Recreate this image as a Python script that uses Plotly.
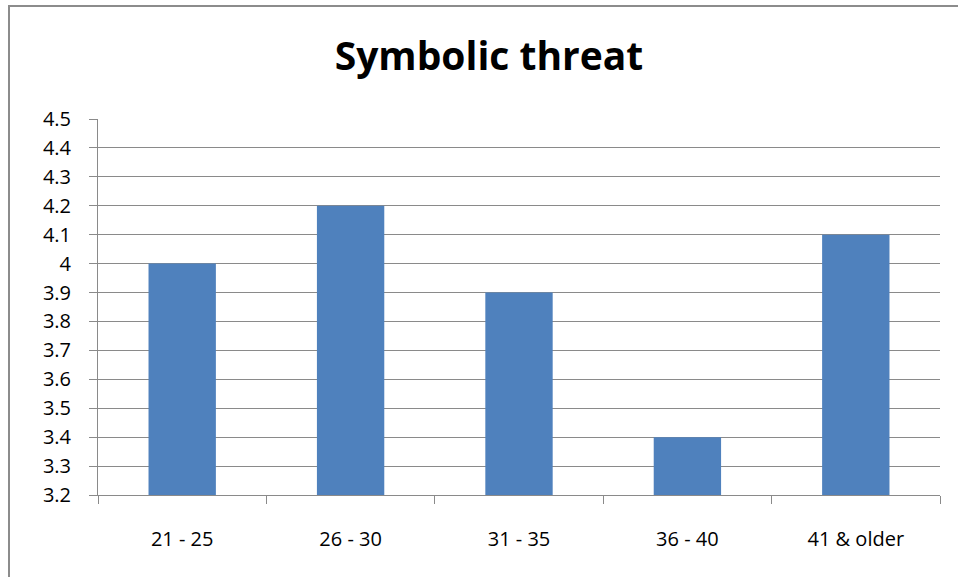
import plotly.graph_objects as go

categories = ["21 - 25", "26 - 30", "31 - 35", "36 - 40", "41 & older"]
values = [4.0, 4.2, 3.9, 3.4, 4.1]
y_ticks = [3.2, 3.3, 3.4, 3.5, 3.6, 3.7, 3.8, 3.9, 4.0, 4.1, 4.2, 4.3, 4.4, 4.5]
y_tick_labels = ["3.2", "3.3", "3.4", "3.5", "3.6", "3.7", "3.8", "3.9", "4", "4.1", "4.2", "4.3", "4.4", "4.5"]

W, H = 958, 577
L, R, T, B = 98, 940, 119, 495

fig = go.Figure(go.Bar(x=categories, y=values, marker=dict(color="#4F81BD", line=dict(width=0))))

font = "Open Sans, sans-serif"
fig.update_layout(
    width=W, height=H,
    margin=dict(l=L, r=W - R, t=T, b=H - B, pad=0),
    paper_bgcolor="white", plot_bgcolor="white",
    bargap=0.6, showlegend=False,
    font=dict(family=font, size=20, color="black"),
    title=dict(text="<b>Symbolic threat</b>", x=489 / W, xanchor="center",
               y=1 - 56 / H, yanchor="middle", yref="container",
               font=dict(family=font, size=39, color="black")),
)
fig.update_yaxes(range=[3.2, 4.5], tickvals=y_ticks, ticktext=y_tick_labels,
                 showgrid=True, gridcolor="#8a8a8a", gridwidth=1,
                 showline=True, linecolor="#8a8a8a", linewidth=1,
                 ticks="outside", ticklen=8, tickcolor="#8a8a8a",
                 ticklabelstandoff=14, zeroline=False)
fig.update_xaxes(showline=True, linecolor="#8a8a8a", linewidth=1,
                 ticks="outside", ticklen=8, tickcolor="#8a8a8a",
                 tickson="boundaries", ticklabelstandoff=26, showgrid=False)

pw, ph = R - L, B - T
fig.add_shape(type="rect", xref="paper", yref="paper",
              x0=(9 - L) / pw, x1=(1200 - L) / pw,
              y0=(B - 800) / ph, y1=(B - 6) / ph,
              line=dict(color="#8c8c8c", width=2), fillcolor="rgba(0,0,0,0)", layer="above")

fig.write_html("out.html", config={"displayModeBar": False},
               post_script="document.body.style.margin='0';")
